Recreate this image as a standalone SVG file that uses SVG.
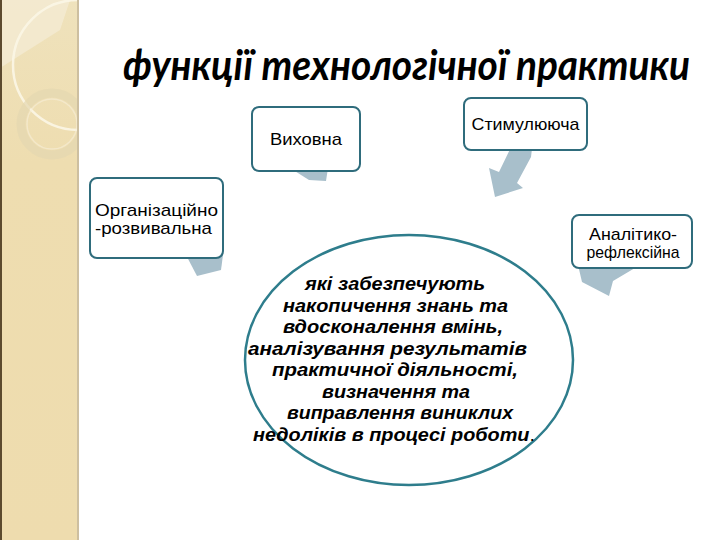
<svg xmlns="http://www.w3.org/2000/svg" width="720" height="540" viewBox="0 0 720 540">
  <defs>
    <style>
      .box { fill: #ffffff; stroke: #2F6C7C; stroke-width: 2; }
      .lbl { font-family: "Liberation Sans", Arial, sans-serif; font-size: 17px; fill: #000; text-anchor: middle; }
      .tail { fill: #A8BFCB; stroke: none; }
      .body { font-family: "Liberation Sans", Arial, sans-serif; font-size: 19px; font-weight: bold; font-style: italic; fill: #000; text-anchor: middle; }
    </style>
    <linearGradient id="band" x1="0" y1="0" x2="0" y2="1">
      <stop offset="0" stop-color="#EFE2BC"/>
      <stop offset="0.3" stop-color="#EEDDB0"/>
      <stop offset="1" stop-color="#EEDCAE"/>
    </linearGradient>
    <clipPath id="bandClip"><rect x="0" y="0" width="78" height="540"/></clipPath>
  </defs>

  <rect x="0" y="0" width="720" height="540" fill="#ffffff"/>

  <!-- decorative left band -->
  <g id="band-decor">
    <rect x="0" y="0" width="79" height="540" fill="url(#band)"/>
    <g clip-path="url(#bandClip)">
      <path d="M0,0 L70,0 L60,30 L0,68 Z" fill="#F4EBD3" opacity="0.8"/>
      <circle cx="78" cy="65" r="65" fill="none" stroke="#FBF6E6" stroke-width="2.5" opacity="0.9"/>
      <circle cx="52" cy="124" r="31" fill="none" stroke="#E4D7B0" stroke-width="9" opacity="0.7"/>
      <circle cx="52" cy="124" r="25" fill="none" stroke="#F6EED8" stroke-width="1.5" opacity="0.6"/>
    </g>
    <rect x="0" y="0" width="2" height="540" fill="#5C4A2E"/>
    <rect x="77" y="0" width="2" height="540" fill="#CDBFA0"/>
  </g>

  <!-- title -->
  <g id="title">
    <text x="123" y="80" font-family="Lato, 'Open Sans', sans-serif" font-size="42" font-style="italic" font-weight="700" fill="#000" textLength="567" lengthAdjust="spacingAndGlyphs">функції технологічної практики</text>
  </g>

  <!-- connectors (callout tails / arrows) -->
  <g id="connectors">
    <polygon class="tail" points="290,168 328,168 326,181 309,180"/>
    <polygon class="tail" points="511,140 533,140 531,157 517,183 523,188 495,197 489,168 499,172 512,145"/>
    <polygon class="tail" points="186,255 223,255 221,270 197,276"/>
    <polygon class="tail" points="578,265 640,265 613,281 609,296 582,282"/>
  </g>

  <g id="node-vykhovna">
    <rect class="box" x="252" y="107" width="108" height="64" rx="7"/>
    <text class="lbl" x="306" y="145" textLength="72" lengthAdjust="spacingAndGlyphs">Виховна</text>
  </g>

  <g id="node-stymuliuiucha">
    <rect class="box" x="464" y="98" width="123" height="52" rx="7"/>
    <text class="lbl" x="525.5" y="130" textLength="108" lengthAdjust="spacingAndGlyphs">Стимулююча</text>
  </g>

  <g id="node-orhanizatsiino">
    <rect class="box" x="90" y="178" width="133" height="80" rx="7"/>
    <text class="lbl" x="156.5" y="216" textLength="123" lengthAdjust="spacingAndGlyphs">Організаційно</text>
    <text class="lbl" x="153.5" y="234" textLength="117" lengthAdjust="spacingAndGlyphs">-розвивальна</text>
  </g>

  <g id="node-analityko">
    <rect class="box" x="572" y="215" width="120" height="53" rx="7"/>
    <text class="lbl" x="633" y="240" textLength="88" lengthAdjust="spacingAndGlyphs">Аналітико-</text>
    <text class="lbl" x="633" y="258" textLength="93" lengthAdjust="spacingAndGlyphs">рефлексійна</text>
  </g>

  <g id="node-center">
    <ellipse cx="409" cy="360" rx="164" ry="125" fill="#ffffff" stroke="#2E7D8C" stroke-width="2.5"/>
    <text class="body" x="395" y="290" textLength="180" lengthAdjust="spacingAndGlyphs">які забезпечують</text>
    <text class="body" x="395.5" y="311.5" textLength="225" lengthAdjust="spacingAndGlyphs">накопичення знань та</text>
    <text class="body" x="393" y="333" textLength="220" lengthAdjust="spacingAndGlyphs">вдосконалення вмінь,</text>
    <text class="body" x="387.5" y="354.5" textLength="279" lengthAdjust="spacingAndGlyphs">аналізування результатів</text>
    <text class="body" x="395" y="376" textLength="246" lengthAdjust="spacingAndGlyphs">практичної діяльності,</text>
    <text class="body" x="396" y="397.5" textLength="148" lengthAdjust="spacingAndGlyphs">визначення та</text>
    <text class="body" x="400" y="419" textLength="226" lengthAdjust="spacingAndGlyphs">виправлення виниклих</text>
    <text class="body" x="394" y="440.5" textLength="282" lengthAdjust="spacingAndGlyphs">недоліків в процесі роботи<tspan font-weight="normal" font-style="normal">.</tspan></text>
  </g>
</svg>
